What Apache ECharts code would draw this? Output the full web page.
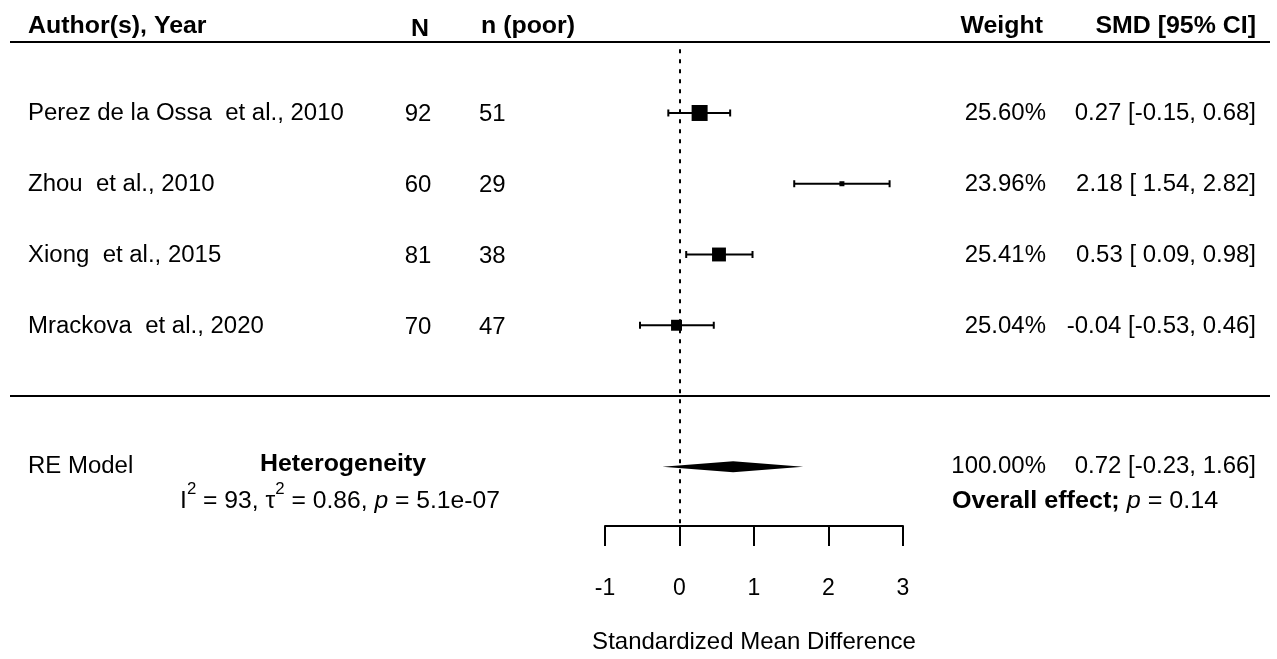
<!DOCTYPE html>
<html>
<head>
<meta charset="utf-8">
<script src="https://cdn.jsdelivr.net/npm/echarts@6/dist/echarts.min.js"></script>
<style>
  html, body { margin: 0; padding: 0; background: #fff; }
  #main { width: 1277px; height: 659px; }
</style>
</head>
<body>
<div id="main"></div>
<script>
// studies, top to bottom
const studies = ['Perez de la Ossa  et al., 2010', 'Zhou  et al., 2010', 'Xiong  et al., 2015', 'Mrackova  et al., 2020']
const totalN = [92, 60, 81, 70]
const poorN = [51, 29, 38, 47]
const weights = ['25.60%', '23.96%', '25.41%', '25.04%']
const smd = [0.27, 2.18, 0.53, -0.04]
const ciLow = [-0.15, 1.54, 0.09, -0.53]
const ciHigh = [0.68, 2.82, 0.98, 0.46]
const rows = [4, 3, 2, 1]

// random effects model
const reEst = 0.72
const reLow = -0.23
const reHigh = 1.66
const reWeight = '100.00%'
const reP = '0.14'
const hetI2 = '93'
const hetTau2 = '0.86'
const hetP = '5.1e-07'
const reRow = -1

const xTicks = [-1, 0, 1, 2, 3]

const FONT = '"Liberation Sans", Arial, Helvetica, sans-serif'
const FS = 23.5
const STRETCH = 1.02
const BOLD_STRETCH = 1.06
const yTop = 5.003 // header rule
const yBottom = -1.837 // axis line
const refTop = 4.9 // dotted line starts just under the header

const fmtLow = v => (v < 0 ? v.toFixed(2) : ' ' + v.toFixed(2))
const ciText = i => `${smd[i].toFixed(2)} [${fmtLow(ciLow[i])}, ${ciHigh[i].toFixed(2)}]`

// box size follows precision, like metafor does
const prec = ciLow.map((lo, i) => 3.92 / (ciHigh[i] - lo))
const pMin = Math.min(...prec)
const pMax = Math.max(...prec)
const boxSize = prec.map(p => 5 + 11 * (p - pMin) / (pMax - pMin))

// text cells of the table
const cells = []
const headerRow = 5.22
cells.push({x: 28, row: headerRow, text: 'Author(s), Year', align: 'left', bold: true})
cells.push({x: 420, row: headerRow, dy: 3, text: 'N', align: 'center', bold: true})
cells.push({x: 481, row: headerRow, text: 'n (poor)', align: 'left', bold: true})
cells.push({x: 1043, row: headerRow, text: 'Weight', align: 'right', bold: true})
cells.push({x: 1256, row: headerRow, text: 'SMD [95% CI]', align: 'right', bold: true})
studies.forEach((s, i) => {
  cells.push({x: 28, row: rows[i], dy: 1, text: s, align: 'left'})
  cells.push({x: 418, row: rows[i], dy: 2, text: String(totalN[i]), align: 'center'})
  cells.push({x: 479, row: rows[i], dy: 2, text: String(poorN[i]), align: 'left'})
  cells.push({x: 1046, row: rows[i], dy: 1, text: weights[i], align: 'right'})
  cells.push({x: 1256, row: rows[i], dy: 1, text: ciText(i), align: 'right'})
})
cells.push({x: 28, row: reRow, text: 'RE Model', align: 'left'})
cells.push({x: 343, row: reRow, dy: -2, text: 'Heterogeneity', align: 'center', bold: true})
cells.push({x: 340, row: reRow, dy: 35, align: 'center', stretch: 1.05,
  text: `{n|I}{sup|2}{n| = ${hetI2}, τ}{sup|2}{n| = ${hetTau2}, }{i|p}{n| = ${hetP}}`})
cells.push({x: 1046, row: reRow, text: reWeight, align: 'right'})
cells.push({x: 1256, row: reRow, align: 'right',
  text: `${reEst.toFixed(2)} [${fmtLow(reLow)}, ${reHigh.toFixed(2)}]`})
cells.push({x: 952, row: reRow, dy: 35, align: 'left', stretch: 1.07,
  text: `{b|Overall effect; }{i|p}{n| = ${reP}}`})

const rich = {
  n: {fontSize: FS, fontFamily: FONT, lineHeight: 40},
  b: {fontSize: FS, fontFamily: FONT, fontWeight: 'bold', lineHeight: 40},
  i: {fontSize: FS, fontFamily: FONT, fontStyle: 'italic', lineHeight: 40},
  sup: {fontSize: 16, fontFamily: FONT, verticalAlign: 'top', lineHeight: 16},
}

const chart = echarts.init(document.getElementById('main'))

chart.setOption({
  backgroundColor: '#fff',
  animation: false,
  grid: {left: 605, right: 374, top: 42, bottom: 133},
  xAxis: {
    type: 'value', min: -1, max: 3, interval: 1,
    axisLine: {onZero: false, lineStyle: {color: '#000', width: 2}},
    axisTick: {length: 20, lineStyle: {color: '#000', width: 2}},
    axisLabel: {margin: 51, fontSize: 23, fontFamily: FONT, color: '#000', formatter: v => String(v)},
    splitLine: {show: false},
    name: 'Standardized Mean Difference',
    nameLocation: 'middle', nameGap: 104,
    nameTextStyle: {fontSize: 24, fontFamily: FONT, color: '#000'},
  },
  yAxis: {type: 'value', min: yBottom, max: yTop, show: false},
  series: [
    {
      // header rule and separator rule
      type: 'custom', silent: true,
      data: [[0, yTop], [0, 0]],
      renderItem: (params, api) => {
        const y = api.coord([0, api.value(1)])[1]
        return {type: 'line', shape: {x1: 10, y1: y, x2: api.getWidth() - 7, y2: y},
          style: {stroke: '#000', lineWidth: 2}}
      },
    },
    {
      // confidence intervals
      type: 'custom', silent: true,
      data: rows.map((r, i) => [ciLow[i], ciHigh[i], r]),
      renderItem: (params, api) => {
        const a = api.coord([api.value(0), api.value(2)])
        const b = api.coord([api.value(1), api.value(2)])
        const st = {stroke: '#000', lineWidth: 2}
        return {type: 'group', children: [
          {type: 'line', shape: {x1: a[0], y1: a[1], x2: b[0], y2: b[1]}, style: st},
          {type: 'line', shape: {x1: a[0], y1: a[1] - 3.5, x2: a[0], y2: a[1] + 3.5}, style: st},
          {type: 'line', shape: {x1: b[0], y1: b[1] - 3.5, x2: b[0], y2: b[1] + 3.5}, style: st},
        ]}
      },
    },
    {
      // point estimates
      type: 'scatter', silent: true,
      symbol: 'rect',
      data: rows.map((r, i) => ({value: [smd[i], r], symbolSize: boxSize[i]})),
      itemStyle: {color: '#000', opacity: 1},
      markLine: {
        silent: true, symbol: ['none', 'none'],
        label: {show: false},
        lineStyle: {color: '#000', width: 2, type: [4, 6]},
        data: [[{coord: [0, refTop]}, {coord: [0, yBottom]}]],
      },
    },
    {
      // summary diamond
      type: 'custom', silent: true,
      data: [[reLow, reEst, reHigh, reRow]],
      renderItem: (params, api) => {
        const l = api.coord([api.value(0), api.value(3)])
        const c = api.coord([api.value(1), api.value(3)])
        const r = api.coord([api.value(2), api.value(3)])
        const h = 5.5
        return {type: 'polygon',
          shape: {points: [[l[0], l[1]], [c[0], c[1] - h], [r[0], r[1]], [c[0], c[1] + h]]},
          style: {fill: '#000'}}
      },
    },
    {
      // table text
      type: 'custom', silent: true,
      data: cells.map(c => [0, c.row]),
      renderItem: (params, api) => {
        const c = cells[params.dataIndex]
        const y = api.coord([0, api.value(1)])[1] + (c.dy || 0)
        const isRich = c.text.indexOf('{') === 0
        const sx = c.stretch || (c.bold ? BOLD_STRETCH : STRETCH)
        return {
          type: 'text', x: c.x, y: y, scaleX: sx, originX: 0,
          style: {
            text: c.text, fill: '#000',
            fontSize: FS, fontFamily: FONT, fontWeight: c.bold ? 'bold' : 'normal',
            align: c.align, verticalAlign: 'middle',
            rich: isRich ? rich : undefined,
          },
        }
      },
    },
  ],
})
</script>
</body>
</html>
